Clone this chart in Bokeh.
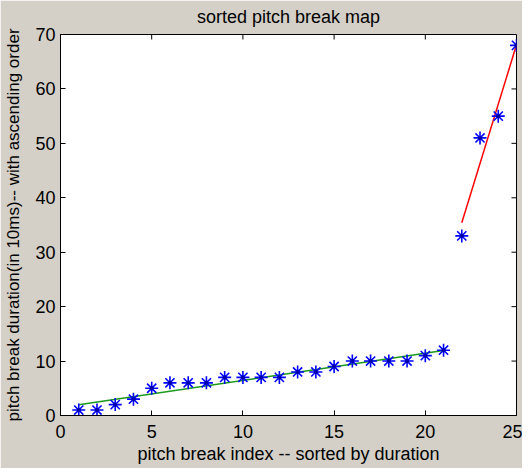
import math
from bokeh.plotting import figure
from bokeh.models import FixedTicker, Range1d
from bokeh.embed import file_html
from bokeh.resources import INLINE

# data
idx = list(range(1, 26))
duration = [1, 1, 2, 3, 5, 6, 6, 6, 7, 7, 7, 7, 8, 8, 9, 10, 10, 10, 10, 11, 12, 33, 51, 55, 68]
fit1_x = [1, 21]
fit1_y = [1.98, 11.93]
fit2_x = [22, 25]
fit2_y = [35.4, 68.1]
x_ticks = [0, 5, 10, 15, 20, 25]
y_ticks = [0, 10, 20, 30, 40, 50, 60, 70]
x_min, x_max = 0, 25
y_min, y_max = 0, 70

FONT = "Liberation Sans"
BG = "#d4d0c8"

p = figure(width=522, height=468, x_range=Range1d(x_min, x_max), y_range=Range1d(y_min, y_max),
           output_backend="svg", toolbar_location=None,
           min_border_left=60, min_border_right=6, min_border_top=34, min_border_bottom=53,
           background_fill_color="white", border_fill_color=BG)
p.grid.visible = False
p.outline_line_color = "black"
p.outline_line_width = 1

p.title.text = "sorted pitch break map"
p.title.align = "center"
p.title.vertical_align = "top"
p.title.text_font = FONT
p.title.text_font_size = "18px"
p.title.text_font_style = "normal"
p.title.text_color = "black"
p.title.standoff = 11

for ax in (p.xaxis[0], p.yaxis[0]):
    ax.axis_line_color = "black"
    ax.major_tick_line_color = "black"
    ax.major_tick_in = 5
    ax.major_tick_out = 0
    ax.minor_tick_line_color = None
    ax.major_label_text_font = FONT
    ax.major_label_text_font_size = "18px"
    ax.major_label_text_color = "black"
    ax.axis_label_text_font = FONT
    ax.axis_label_text_font_style = "normal"
    ax.axis_label_text_color = "black"

p.xaxis.ticker = FixedTicker(ticks=x_ticks)
p.yaxis.ticker = FixedTicker(ticks=y_ticks)
p.xaxis.axis_label = "pitch break index -- sorted by duration"
p.xaxis.axis_label_text_font_size = "18px"
p.xaxis.major_label_standoff = 9
p.xaxis.axis_label_standoff = 3
p.yaxis.axis_label = "pitch break duration(in 10ms)-- with ascending order"
p.yaxis.axis_label_text_font_size = "17px"
p.yaxis.major_label_standoff = 5
p.yaxis.axis_label_standoff = 9

# mirrored inward ticks on the top and right edges of the box
p.ray(x=x_ticks, y=[y_max] * len(x_ticks), length=5, length_units="screen",
      angle=-math.pi / 2, line_color="black", line_width=1)
p.ray(x=[x_max] * len(y_ticks), y=y_ticks, length=5, length_units="screen",
      angle=math.pi, line_color="black", line_width=1)

p.line(fit1_x, fit1_y, line_color="#1a9a1a", line_width=1.5)
p.line(fit2_x, fit2_y, line_color="#ff0000", line_width=1.5)
p.scatter(idx, duration, marker="asterisk", size=13, line_color="#0000ff", line_width=1.6)
p.scatter(idx, duration, marker="circle", size=4, fill_color="#0000aa", line_color=None)

open("out.html", "w").write(file_html(p, INLINE))
